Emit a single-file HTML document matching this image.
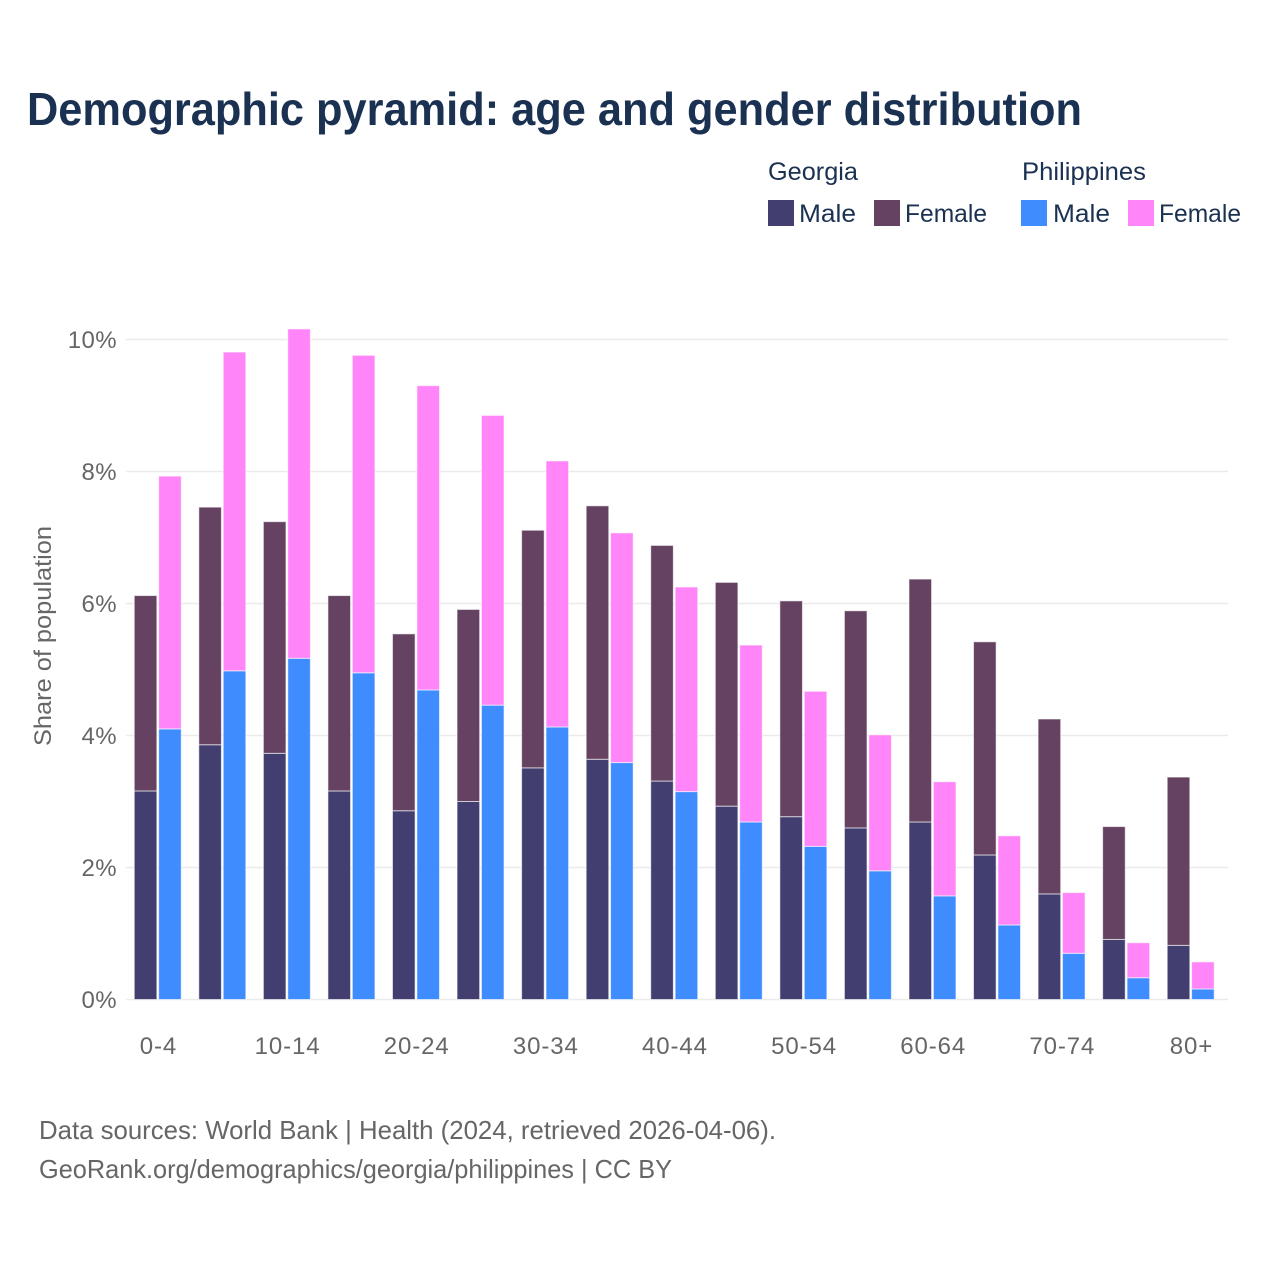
<!DOCTYPE html>
<html lang="en">
<head>
<meta charset="utf-8">
<title>Demographic pyramid</title>
<style>
html,body{margin:0;padding:0;background:#fff;width:1280px;height:1280px;overflow:hidden}
svg{display:block}
text{font-family:"Liberation Sans",sans-serif}
</style>
</head>
<body>
<svg id="chart" xmlns="http://www.w3.org/2000/svg" width="1280" height="1280" viewBox="0 0 1280 1280">
  <rect width="1280" height="1280" fill="#ffffff"/>
  <text x="27" y="125" font-size="46" font-weight="700" fill="#1a3152" textLength="1055" lengthAdjust="spacingAndGlyphs">Demographic pyramid: age and gender distribution</text>

  <g fill="#1a3152" font-size="25">
    <text x="768" y="180" textLength="90" lengthAdjust="spacingAndGlyphs">Georgia</text>
    <text x="1022" y="180" textLength="124" lengthAdjust="spacingAndGlyphs">Philippines</text>
    <rect x="768" y="200" width="26" height="26" fill="#423f70"/>
    <text x="799" y="222" textLength="57" lengthAdjust="spacingAndGlyphs">Male</text>
    <rect x="874" y="200" width="26" height="26" fill="#664262"/>
    <text x="905" y="222" textLength="82" lengthAdjust="spacingAndGlyphs">Female</text>
    <rect x="1021" y="200" width="26" height="26" fill="#3f8cff"/>
    <text x="1053" y="222" textLength="57" lengthAdjust="spacingAndGlyphs">Male</text>
    <rect x="1128" y="200" width="26" height="26" fill="#ff85f8"/>
    <text x="1159" y="222" textLength="82" lengthAdjust="spacingAndGlyphs">Female</text>
  </g>

  <g id="grid"></g>
  <g id="bars"></g>
  <g id="yticks"></g>
  <g id="xticks"></g>

  <text transform="translate(51,746) rotate(-90)" x="0" y="0" font-size="24" fill="#666666" textLength="220" lengthAdjust="spacingAndGlyphs">Share of population</text>

  <text x="39" y="1139" font-size="26" fill="#666666" textLength="737" lengthAdjust="spacingAndGlyphs">Data sources: World Bank | Health (2024, retrieved 2026-04-06).</text>
  <text x="39" y="1178" font-size="26" fill="#666666" textLength="633" lengthAdjust="spacingAndGlyphs">GeoRank.org/demographics/georgia/philippines | CC BY</text>
</svg>
<script>
const ageGroups = ["0-4","5-9","10-14","15-19","20-24","25-29","30-34","35-39","40-44","45-49","50-54","55-59","60-64","65-69","70-74","75-79","80+"];
const georgiaMale = [3.16,3.86,3.73,3.16,2.86,3.00,3.51,3.64,3.31,2.93,2.77,2.60,2.69,2.19,1.60,0.91,0.82];
const georgiaFemale = [2.96,3.60,3.51,2.96,2.68,2.91,3.60,3.84,3.57,3.39,3.27,3.29,3.68,3.23,2.65,1.71,2.55];
const philippinesMale = [4.10,4.98,5.17,4.95,4.69,4.46,4.13,3.59,3.15,2.69,2.32,1.95,1.57,1.13,0.70,0.33,0.16];
const philippinesFemale = [3.83,4.83,4.99,4.81,4.61,4.39,4.03,3.48,3.10,2.68,2.35,2.06,1.73,1.35,0.92,0.53,0.41];
const yTickValues = [0,2,4,6,8,10];
const yTickLabels = ["0%","2%","4%","6%","8%","10%"];
const xTickLabels = ["0-4","10-14","20-24","30-34","40-44","50-54","60-64","70-74","80+"];

const NS = "http://www.w3.org/2000/svg";
const y0 = 999.5, pxPerUnit = 66, firstCenter = 158, band = 64.56, barW = 22.6, barGap = 1.9;
const plotLeft = 126, plotRight = 1228;
const yScale = v => y0 - v * pxPerUnit;
const xCenter = i => firstCenter + i * band;

function make(tag, attrs, parent, txt) {
  const el = document.createElementNS(NS, tag);
  for (const k in attrs) el.setAttribute(k, attrs[k]);
  if (txt !== undefined) el.textContent = txt;
  parent.appendChild(el);
  return el;
}

const grid = document.getElementById("grid");
const yticks = document.getElementById("yticks");
yTickValues.forEach((v, i) => {
  const line = make("line", {x1: plotLeft, x2: plotRight, y1: yScale(v), y2: yScale(v), stroke: "#ebebeb", "stroke-width": 1.5}, grid);
  
  
  const t = make("text", {x: 117, y: yScale(v) + 8.5, "text-anchor": "end", "font-size": 24, "letter-spacing": 0.4, fill: "#666666"}, yticks, yTickLabels[i]);
  
  
});

const xticks = document.getElementById("xticks");
xTickLabels.forEach(label => {
  const idx = ageGroups.indexOf(label);
  const t = make("text", {x: xCenter(idx) + 0.5, y: 1054, "text-anchor": "middle", "font-size": 24, "letter-spacing": 0.9, fill: "#666666"}, xticks, label);
  
  
});

const bars = document.getElementById("bars");
function addBar(x, base, value, fill) {
  const top = yScale(base + value), bottom = yScale(base);
  const r = make("rect", {x: x, y: top, width: barW, height: bottom - top, fill: fill, stroke: "#ffffff", "stroke-opacity": 0.6, "stroke-width": 1}, bars);
  
  
}
ageGroups.forEach((g, i) => {
  const c = xCenter(i);
  const gx = c - barGap / 2 - barW - 0.2;
  const px = c + barGap / 2 - 0.3;
  addBar(gx, 0, georgiaMale[i], "#423f70");
  addBar(gx, georgiaMale[i], georgiaFemale[i], "#664262");
  addBar(px, 0, philippinesMale[i], "#3f8cff");
  addBar(px, philippinesMale[i], philippinesFemale[i], "#ff85f8");
});
</script>
</body>
</html>
